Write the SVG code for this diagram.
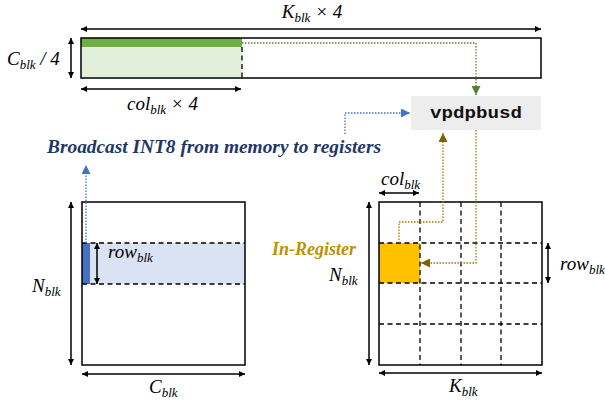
<svg xmlns="http://www.w3.org/2000/svg" width="605" height="407" viewBox="0 0 605 407">
<defs>
<marker id="ah" viewBox="0 0 10 10" refX="10" refY="5" markerWidth="7" markerHeight="6" orient="auto-start-reverse" markerUnits="userSpaceOnUse"><path d="M0,0 L10,5 L0,10 z" fill="#000"/></marker>
<marker id="ahG" viewBox="0 0 10 10" refX="10" refY="5" markerWidth="9" markerHeight="9" orient="auto" markerUnits="userSpaceOnUse"><path d="M0,0 L10,5 L0,10 z" fill="#548235"/></marker>
<marker id="ahB" viewBox="0 0 10 10" refX="10" refY="5" markerWidth="9" markerHeight="9" orient="auto" markerUnits="userSpaceOnUse"><path d="M0,0 L10,5 L0,10 z" fill="#4472C4"/></marker>
<marker id="ahO" viewBox="0 0 10 10" refX="10" refY="5" markerWidth="9" markerHeight="9" orient="auto" markerUnits="userSpaceOnUse"><path d="M0,0 L10,5 L0,10 z" fill="#7F6000"/></marker>
</defs>

<g id="top-matrix">
<rect x="81" y="47" width="161" height="31" fill="#E2EFDA"/>
<rect x="81" y="38" width="161" height="9" fill="#70AD47"/>
<line x1="242" y1="47" x2="242" y2="78" stroke="#000" stroke-width="1.3" stroke-dasharray="5 3.5"/>
<rect x="81" y="38" width="460" height="40" fill="none" stroke="#000" stroke-width="1.5"/>
</g>

<g id="vpdpbusd">
<rect x="411" y="96" width="130" height="34" fill="#EDEDED"/>
<text x="476" y="118" text-anchor="middle" font-family="Liberation Mono" font-weight="bold" font-size="17" fill="#111" textLength="92" lengthAdjust="spacingAndGlyphs">vpdpbusd</text>
</g>

<g id="left-matrix">
<rect x="82" y="243" width="163" height="41" fill="#DAE3F3"/>
<rect x="82" y="243" width="8" height="41" fill="#4472C4"/>
<g stroke="#000" stroke-width="1.3" stroke-dasharray="5 3.5">
<line x1="82" y1="243" x2="245" y2="243"/>
<line x1="82" y1="284" x2="245" y2="284"/>
</g>
<rect x="82" y="202" width="163" height="163" fill="none" stroke="#000" stroke-width="1.5"/>
</g>

<g id="right-matrix">
<rect x="379" y="243" width="41" height="40" fill="#FFC000"/>
<g stroke="#000" stroke-width="1.3" stroke-dasharray="5 3.5">
<line x1="420" y1="202" x2="420" y2="365"/>
<line x1="461" y1="202" x2="461" y2="365"/>
<line x1="501" y1="202" x2="501" y2="365"/>
<line x1="379" y1="243" x2="542" y2="243"/>
<line x1="379" y1="283" x2="542" y2="283"/>
<line x1="379" y1="324" x2="542" y2="324"/>
</g>
<rect x="379" y="202" width="163" height="163" fill="none" stroke="#000" stroke-width="1.5"/>
</g>

<g id="connectors" fill="none" stroke-width="1.3" stroke-dasharray="1.5 1.5">
<path d="M242,43 H476 V95" stroke="#548235" marker-end="url(#ahG)"/>
<path d="M345,134 V113 H410" stroke="#4472C4" marker-end="url(#ahB)"/>
<path d="M86,243 V165" stroke="#4472C4" marker-end="url(#ahB)"/>
<path d="M399,243 V222 H443 V133" stroke="#A07A00" marker-end="url(#ahO)"/>
<path d="M476,130 V263 H421" stroke="#A07A00" marker-end="url(#ahO)"/>
</g>

<g id="dimensions" stroke="#000" stroke-width="1.5" fill="none" marker-start="url(#ah)" marker-end="url(#ah)">
<line x1="81" y1="29" x2="541" y2="29"/>
<line x1="71" y1="38" x2="71" y2="78"/>
<line x1="81" y1="89" x2="241" y2="89"/>
<line x1="71" y1="202" x2="71" y2="365"/>
<line x1="82" y1="374" x2="245" y2="374"/>
<line x1="97" y1="243" x2="97" y2="284"/>
<line x1="379" y1="193" x2="419" y2="193"/>
<line x1="369" y1="202" x2="369" y2="365"/>
<line x1="379" y1="373" x2="542" y2="373"/>
<line x1="548" y1="243" x2="548" y2="283"/>
</g>

<g id="labels" font-family="Liberation Serif" font-style="italic" font-size="19" fill="#000">
<text x="312" y="18" text-anchor="middle">K<tspan font-size="13" dy="4">blk</tspan><tspan dy="-4"> × 4</tspan></text>
<text x="7" y="65">C<tspan font-size="13" dy="4">blk</tspan><tspan dy="-4"> / 4</tspan></text>
<text x="127" y="110">col<tspan font-size="13" dy="4">blk</tspan><tspan dy="-4"> × 4</tspan></text>
<text x="47" y="153" font-weight="bold" font-size="18" fill="#1F3864" textLength="334" lengthAdjust="spacingAndGlyphs">Broadcast INT8 from memory to registers</text>
<text x="32" y="292">N<tspan font-size="13" dy="4">blk</tspan></text>
<text x="108" y="258">row<tspan font-size="13" dy="4">blk</tspan></text>
<text x="149" y="393">C<tspan font-size="13" dy="4">blk</tspan></text>
<text x="381" y="185">col<tspan font-size="13" dy="4">blk</tspan></text>
<text x="272" y="255" font-weight="bold" font-size="18" fill="#BF9000">In-Register</text>
<text x="329" y="281">N<tspan font-size="13" dy="4">blk</tspan></text>
<text x="560" y="270">row<tspan font-size="13" dy="4">blk</tspan></text>
<text x="449" y="392">K<tspan font-size="13" dy="4">blk</tspan></text>
</g>
</svg>
